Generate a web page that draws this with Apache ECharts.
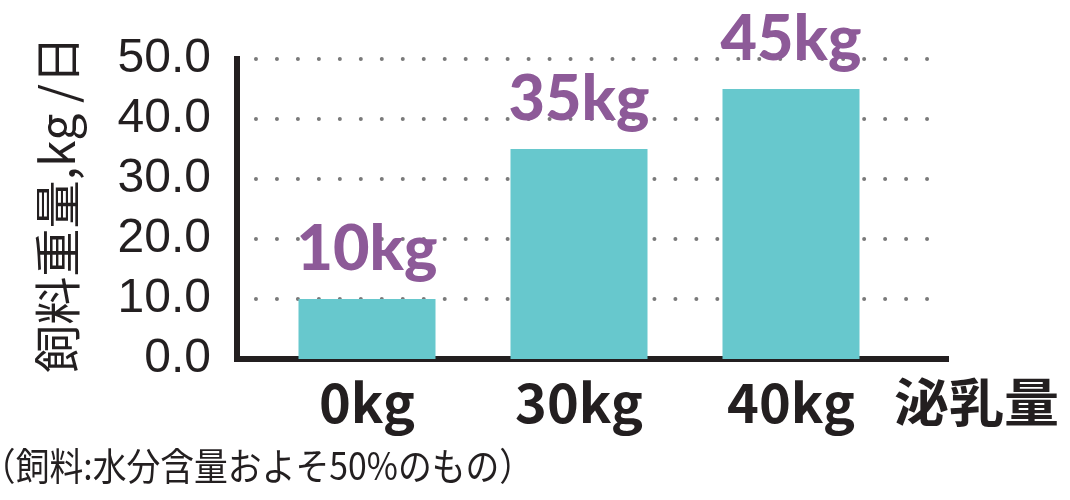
<!DOCTYPE html>
<html>
<head>
<meta charset="utf-8">
<script src="https://cdn.jsdelivr.net/npm/echarts@6/dist/echarts.min.js"></script>
<style>html,body{margin:0;padding:0;background:#fff;}#c{width:1070px;height:500px;}</style>
</head>
<body>
<div id="c"></div>
<script>
// ---- data ----
const categories = ['0kg', '30kg', '40kg'];
const feedAmount = [10, 35, 45];
const yMin = 0, yMax = 50, yStep = 10;
const yAxisTitle = '飼料重量,kg /日';
const xAxisTitle = '泌乳量';
const footnote = '（飼料:水分含量およそ50%のもの）';

// ---- text fitting helper (ink based) ----
const mctx = document.createElement('canvas').getContext('2d');
function inkMeasure(text, font) {
  mctx.font = font;
  const m = mctx.measureText(text);
  return { l: m.actualBoundingBoxLeft, r: m.actualBoundingBoxRight };
}

const FN_FONT = '400 38px "Noto Sans CJK JP"';
const fn = inkMeasure(footnote, FN_FONT);
const fnScale = (510 - 5) / (fn.l + fn.r);
const fnX = 5 + fn.l * fnScale;

const YN_FONT = '400 47px "Noto Sans CJK JP"';
const yn = inkMeasure(yAxisTitle, YN_FONT);
const ynScale = (373 - 43) / (yn.l + yn.r);
const ynY = 373 - yn.l * ynScale;

const XN_FONT = '700 52px "Noto Sans CJK JP"';
const xn = inkMeasure(xAxisTitle, XN_FONT);
const xnScale = (1057 - 895) / (xn.l + xn.r);
const xnX = 895 + xn.l * xnScale;

const chart = echarts.init(document.getElementById('c'), null, { renderer: 'canvas' });
const dark = '#231f20';

chart.setOption({
  animation: false,
  backgroundColor: '#fff',
  grid: [
    { left: 237, top: 59, width: 709, height: 300 },
    { left: 261, top: 59, width: 636, height: 300 }
  ],
  xAxis: [
    { gridIndex: 0, type: 'value', min: 0, max: 1,
      axisLine: { show: true, lineStyle: { color: dark, width: 6, cap: 'square' } },
      axisTick: { show: false }, axisLabel: { show: false }, splitLine: { show: false } },
    { gridIndex: 1, type: 'category', data: categories,
      axisLine: { show: false }, axisTick: { show: false },
      axisLabel: { color: dark, fontFamily: '"Noto Sans CJK JP"', fontWeight: 700, fontSize: 54, margin: 16 } }
  ],
  yAxis: [
    { gridIndex: 0, type: 'value', min: yMin, max: yMax, interval: yStep,
      axisLine: { show: true, lineStyle: { color: dark, width: 6, cap: 'square' } },
      axisTick: { show: false },
      axisLabel: { color: dark, fontFamily: '"Liberation Sans"', fontSize: 48, margin: 26,
        formatter: v => v.toFixed(1) },
      splitLine: { show: true, lineStyle: { color: '#7a7a7a', width: 4, type: [0.001, 20.97], dashOffset: 2, cap: 'round' } } },
    { gridIndex: 1, type: 'value', min: yMin, max: yMax, interval: yStep, show: false }
  ],
  series: [{
    type: 'bar', xAxisIndex: 1, yAxisIndex: 1,
    data: feedAmount, barWidth: 137,
    itemStyle: { color: '#67c8cd' },
    label: { show: true, position: 'top', distance: 18, color: '#8d5a98',
      fontFamily: 'Lato', fontWeight: 900, fontSize: 63,
      formatter: p => p.value + 'kg' }
  }],
  graphic: [
    { type: 'text', x: 57, y: ynY, rotation: Math.PI / 2, scaleX: ynScale,
      style: { text: yAxisTitle, font: YN_FONT, fill: dark, align: 'left', verticalAlign: 'middle' } },
    { type: 'text', x: xnX, y: 402, scaleX: xnScale,
      style: { text: xAxisTitle, font: XN_FONT, fill: dark, align: 'left', verticalAlign: 'middle' } },
    { type: 'text', x: fnX, y: 466, scaleX: fnScale,
      style: { text: footnote, font: FN_FONT, fill: dark, align: 'left', verticalAlign: 'middle' } }
  ]
});
</script>
</body>
</html>
